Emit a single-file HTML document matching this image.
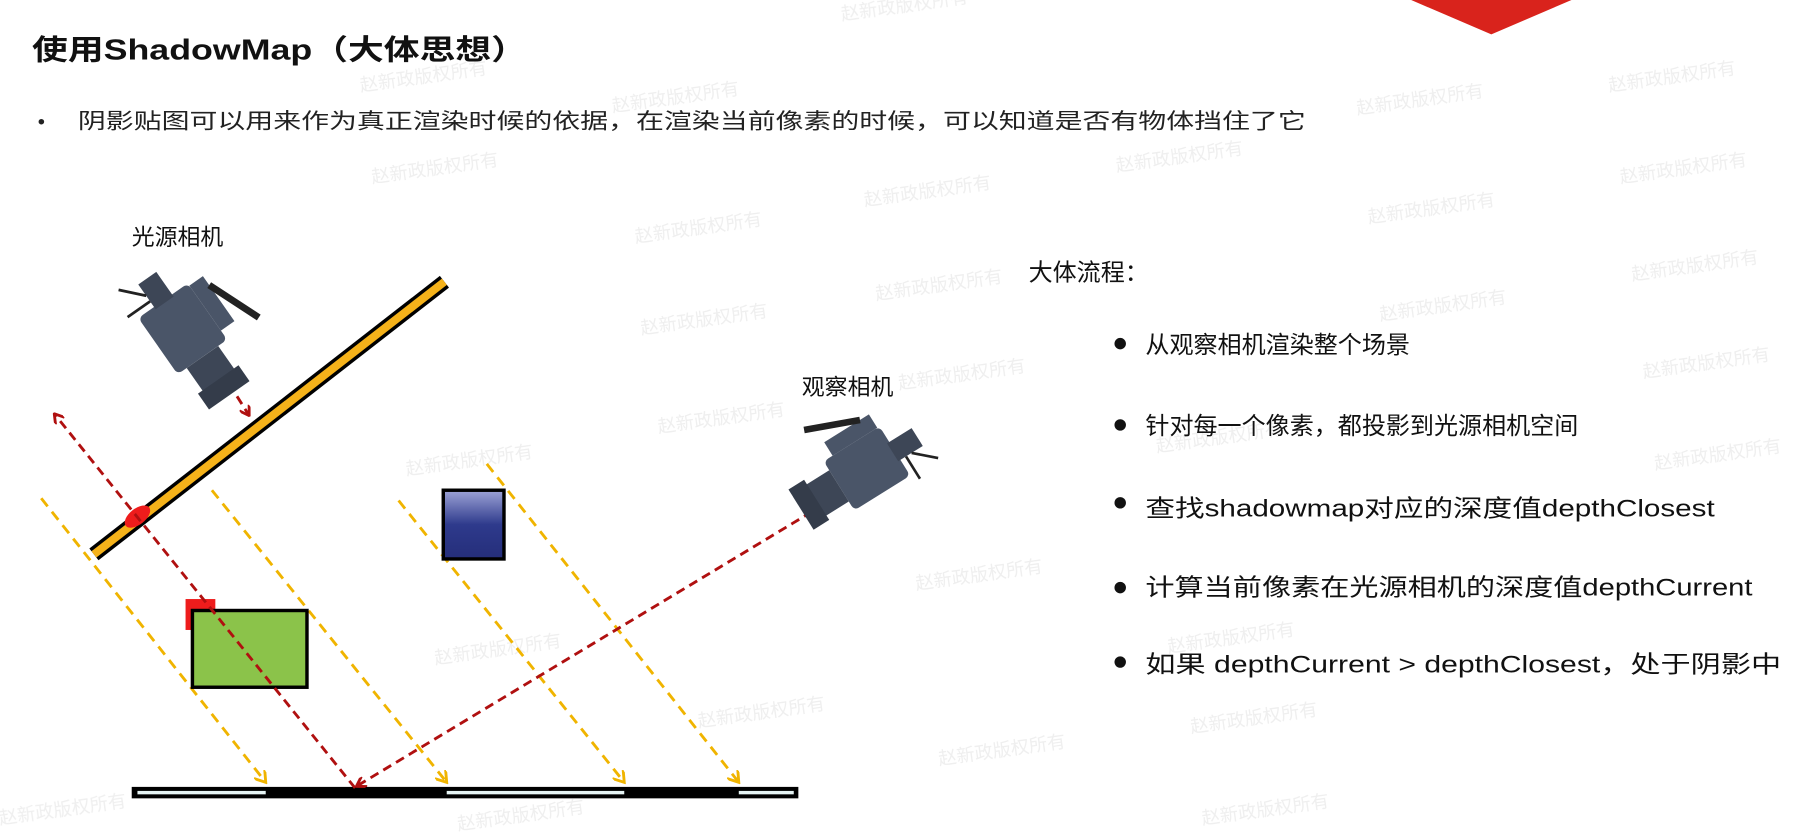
<!DOCTYPE html>
<html><head><meta charset="utf-8"><style>
html,body{margin:0;padding:0;background:#fff;}
svg{display:block;}
text{font-family:"Liberation Sans","Noto Sans CJK SC",sans-serif;}
</style></head><body>
<svg width="1796" height="835" viewBox="0 0 1568 729" preserveAspectRatio="none" xmlns="http://www.w3.org/2000/svg">
<defs>
<marker id="ar" markerWidth="10" markerHeight="10" refX="8" refY="5" orient="auto" markerUnits="userSpaceOnUse"><path d="M1,0 L9,5 L1,10" fill="none" stroke="#b01010" stroke-width="2.5"/></marker>
<marker id="ay" markerWidth="12" markerHeight="12" refX="10" refY="6" orient="auto" markerUnits="userSpaceOnUse"><path d="M1,0 L10,6 L1,12" fill="none" stroke="#f0b400" stroke-width="2.5"/></marker>
<linearGradient id="bl" x1="0" y1="0" x2="0" y2="1"><stop offset="0" stop-color="#9da3d6"/><stop offset="0.5" stop-color="#2e3a8c"/><stop offset="1" stop-color="#252e7a"/></linearGradient>
<g id="cam">
<rect x="-30" y="-22" width="50" height="44" rx="4" fill="#4a5568"/>
<rect x="20" y="-14" width="22" height="28" fill="#3d4656"/>
<rect x="40" y="-18" width="14" height="36" fill="#343c4a"/>
<rect x="-28" y="-34" width="40" height="12" fill="#4a5568"/>
<rect x="-50" y="-8" width="22" height="16" fill="#3d4656"/>
<line x1="-20" y1="-34" x2="20" y2="-50" stroke="#222" stroke-width="5"/>
<line x1="-40" y1="8" x2="-55" y2="22" stroke="#222" stroke-width="2"/>
<line x1="-35" y1="8" x2="-35" y2="28" stroke="#222" stroke-width="2"/>
</g>
</defs>
<rect width="1568" height="729" fill="#fff"/>
<g fill="#e4e4e4" font-size="16" opacity="0.6">
<text x="735" y="18" transform="rotate(-8 735 18)">赵新政版权所有</text>
<text x="315" y="80" transform="rotate(-8 315 80)">赵新政版权所有</text>
<text x="535" y="98" transform="rotate(-8 535 98)">赵新政版权所有</text>
<text x="1405" y="80" transform="rotate(-8 1405 80)">赵新政版权所有</text>
<text x="1185" y="100" transform="rotate(-8 1185 100)">赵新政版权所有</text>
<text x="325" y="160" transform="rotate(-8 325 160)">赵新政版权所有</text>
<text x="975" y="150" transform="rotate(-8 975 150)">赵新政版权所有</text>
<text x="755" y="180" transform="rotate(-8 755 180)">赵新政版权所有</text>
<text x="1415" y="160" transform="rotate(-8 1415 160)">赵新政版权所有</text>
<text x="555" y="212" transform="rotate(-8 555 212)">赵新政版权所有</text>
<text x="1195" y="195" transform="rotate(-8 1195 195)">赵新政版权所有</text>
<text x="765" y="262" transform="rotate(-8 765 262)">赵新政版权所有</text>
<text x="1425" y="245" transform="rotate(-8 1425 245)">赵新政版权所有</text>
<text x="560" y="292" transform="rotate(-8 560 292)">赵新政版权所有</text>
<text x="1205" y="280" transform="rotate(-8 1205 280)">赵新政版权所有</text>
<text x="785" y="340" transform="rotate(-8 785 340)">赵新政版权所有</text>
<text x="1435" y="330" transform="rotate(-8 1435 330)">赵新政版权所有</text>
<text x="575" y="378" transform="rotate(-8 575 378)">赵新政版权所有</text>
<text x="1010" y="395" transform="rotate(-8 1010 395)">赵新政版权所有</text>
<text x="355" y="415" transform="rotate(-8 355 415)">赵新政版权所有</text>
<text x="1445" y="410" transform="rotate(-8 1445 410)">赵新政版权所有</text>
<text x="800" y="515" transform="rotate(-8 800 515)">赵新政版权所有</text>
<text x="1020" y="570" transform="rotate(-8 1020 570)">赵新政版权所有</text>
<text x="380" y="580" transform="rotate(-8 380 580)">赵新政版权所有</text>
<text x="610" y="635" transform="rotate(-8 610 635)">赵新政版权所有</text>
<text x="1040" y="640" transform="rotate(-8 1040 640)">赵新政版权所有</text>
<text x="820" y="668" transform="rotate(-8 820 668)">赵新政版权所有</text>
<text x="1050" y="720" transform="rotate(-8 1050 720)">赵新政版权所有</text>
<text x="400" y="725" transform="rotate(-8 400 725)">赵新政版权所有</text>
<text x="0" y="720" transform="rotate(-8 0 720)">赵新政版权所有</text>
</g>
<polygon points="1232,0 1372,0 1302,30" fill="#d9231c"/>
<text x="28" y="52" font-size="25" font-weight="bold" fill="#111" textLength="432" lengthAdjust="spacingAndGlyphs">使用ShadowMap（大体思想）</text>
<text x="33" y="112" font-size="18" fill="#222">•</text>
<text x="68" y="112" font-size="19" fill="#222" textLength="1072" lengthAdjust="spacingAndGlyphs">阴影贴图可以用来作为真正渲染时候的依据，在渲染当前像素的时候，可以知道是否有物体挡住了它</text>
<text x="115" y="214" font-size="20" fill="#111">光源相机</text>
<text x="700" y="345" font-size="20" fill="#111">观察相机</text>
<g stroke="#f0b400" stroke-width="2.5" stroke-dasharray="9,6" fill="none" marker-end="url(#ay)">
<line x1="36" y1="435" x2="232" y2="683"/>
<line x1="185" y1="428" x2="390" y2="683"/>
<line x1="348" y1="437" x2="545" y2="683"/>
<line x1="425" y1="405" x2="645" y2="683"/>
</g>
<rect x="115" y="687" width="582" height="10" fill="#000"/>
<rect x="120" y="690.5" width="112" height="3" fill="#e6f4f4"/>
<rect x="390" y="690.5" width="155" height="3" fill="#e6f4f4"/>
<rect x="645" y="690.5" width="48" height="3" fill="#e6f4f4"/>
<rect x="387" y="428" width="53" height="60" fill="url(#bl)" stroke="#000" stroke-width="3"/>
<rect x="162" y="523" width="26" height="27" fill="#ee1c1c"/>
<rect x="168" y="533" width="100" height="67" fill="#8bc34a" stroke="#000" stroke-width="3"/>
<line x1="82" y1="484" x2="388" y2="246" stroke="#000" stroke-width="13"/>
<line x1="82" y1="484" x2="388" y2="246" stroke="#f5b21a" stroke-width="7"/>
<ellipse cx="120" cy="451" rx="13" ry="7" transform="rotate(-38 120 451)" fill="#ee1c1c"/>
<g stroke="#b01010" stroke-width="2.5" stroke-dasharray="8,5" fill="none">
<line x1="310" y1="688" x2="48" y2="362" marker-end="url(#ar)"/>
<line x1="720" y1="440" x2="312" y2="686" marker-end="url(#ar)"/>
<line x1="200" y1="335" x2="217" y2="362" marker-end="url(#ar)"/>
</g>
<use href="#cam" transform="translate(163,292) rotate(55) scale(1.2)"/>
<use href="#cam" transform="translate(752,412) rotate(-32) scale(-1.15,1.15)"/>
<text x="898" y="245" font-size="21" fill="#111">大体流程：</text>
<g font-size="21" fill="#111">
<circle cx="978" cy="300" r="5"/><text x="1000" y="308">从观察相机渲染整个场景</text>
<circle cx="978" cy="371" r="5"/><text x="1000" y="379">针对每一个像素，都投影到光源相机空间</text>
<circle cx="978" cy="439" r="5"/><text x="1000" y="451" textLength="497" lengthAdjust="spacingAndGlyphs">查找shadowmap对应的深度值depthClosest</text>
<circle cx="978" cy="513" r="5"/><text x="1000" y="520" textLength="530" lengthAdjust="spacingAndGlyphs">计算当前像素在光源相机的深度值depthCurrent</text>
<circle cx="978" cy="578" r="5"/><text x="1000" y="587" textLength="555" lengthAdjust="spacingAndGlyphs">如果 depthCurrent &gt; depthClosest，处于阴影中</text>
</g>
</svg>
</body></html>
